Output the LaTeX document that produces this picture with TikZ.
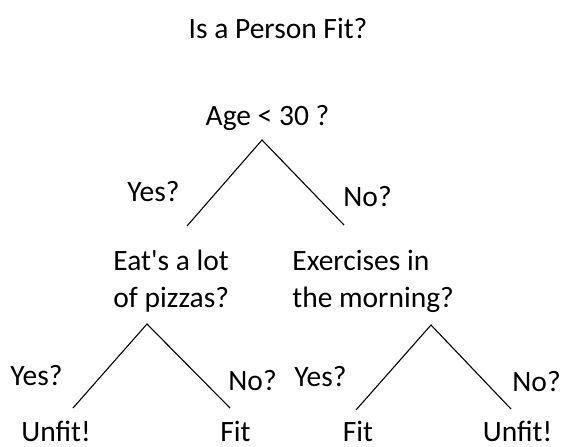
\documentclass[tikz,border=0pt]{standalone}
\usepackage{fontspec}
\setmainfont{Carlito}
\usepackage{tikz}
\usetikzlibrary{positioning, calc}
\tikzset{
  qnode/.style={inner sep=0pt, font=\fontsize{14.75}{18.5}\selectfont},
  splitnode/.style={qnode, align=left, anchor=north west},
  ansnode/.style={qnode},
  leafnode/.style={qnode, anchor=base},
  branch/.style={line width=0.55pt, black},
}

\begin{document}
\begin{tikzpicture}[x=0.5pt, y=-0.5pt]
  \useasboundingbox (0,0) rectangle (563,446);
  % questions
  \node[qnode, anchor=base] (title) at (278,38) {Is a Person Fit?};
  \node[qnode, anchor=base] (age) at (267.5,125) {Age < 30 ?};
  \node[splitnode] (pizza) at (113,250) {Eat\textquotesingle s a lot\\of pizzas?};
  \node[splitnode] (morning) at (292,250) {Exercises in\\the morning?};
  % leaves
  \node[leafnode] (unfit1) at (56,441) {Unfit!};
  \node[leafnode] (fit1) at (235.5,441) {Fit};
  \node[leafnode] (fit2) at (358,441) {Fit};
  \node[leafnode] (unfit2) at (517.5,441) {Unfit!};
  % fork ends
  \coordinate (age-tip) at (262,140);
  \coordinate (age-yes) at (187,226);
  \coordinate (age-no) at (344,225);
  \coordinate (pizza-tip) at (147,324);
  \coordinate (pizza-yes) at (73,408);
  \coordinate (pizza-no) at (230,408);
  \coordinate (morning-tip) at (431,325);
  \coordinate (morning-yes) at (356,410);
  \coordinate (morning-no) at (511,409);
  \foreach \q in {age, pizza, morning}{
    \draw[branch] (\q-yes) -- (\q-tip) -- (\q-no);
  }
  % answers
  \node[ansnode, anchor=base east] (age-y) at (180,201) {Yes?};
  \node[ansnode, anchor=base west] (age-n) at (343,206) {No?};
  \node[ansnode, anchor=base east] (pizza-y) at (63,385) {Yes?};
  \node[ansnode, anchor=base west] (pizza-n) at (228,390) {No?};
  \node[ansnode, anchor=base east] (morning-y) at (347,386) {Yes?};
  \node[ansnode, anchor=base west] (morning-n) at (512,391) {No?};
\end{tikzpicture}
\end{document}
